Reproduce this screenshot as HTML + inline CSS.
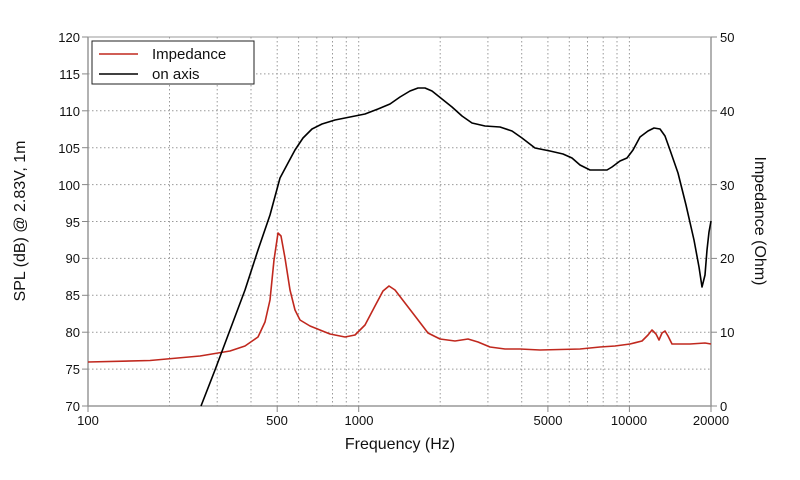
<!DOCTYPE html>
<html><head><meta charset="utf-8"><style>html,body{margin:0;padding:0;background:#fff}svg{display:block}</style></head><body>
<svg width="800" height="480" xmlns="http://www.w3.org/2000/svg" font-family="Liberation Sans, Arial, sans-serif">
<rect width="800" height="480" fill="#fff"/>
<g stroke="#999" stroke-width="1" stroke-dasharray="1.5,2.5">
<!-- horizontal grid -->
<line x1="88" x2="711" y1="73.9" y2="73.9"/><line x1="88" x2="711" y1="110.8" y2="110.8"/><line x1="88" x2="711" y1="147.7" y2="147.7"/><line x1="88" x2="711" y1="184.6" y2="184.6"/><line x1="88" x2="711" y1="221.5" y2="221.5"/><line x1="88" x2="711" y1="258.4" y2="258.4"/><line x1="88" x2="711" y1="295.3" y2="295.3"/><line x1="88" x2="711" y1="332.2" y2="332.2"/><line x1="88" x2="711" y1="369.1" y2="369.1"/>
<!-- vertical grid -->
<line y1="37" y2="406" x1="169.5" x2="169.5"/><line y1="37" y2="406" x1="217.2" x2="217.2"/><line y1="37" y2="406" x1="251" x2="251"/><line y1="37" y2="406" x1="277.2" x2="277.2"/><line y1="37" y2="406" x1="298.6" x2="298.6"/><line y1="37" y2="406" x1="316.8" x2="316.8"/><line y1="37" y2="406" x1="332.5" x2="332.5"/><line y1="37" y2="406" x1="346.3" x2="346.3"/><line y1="37" y2="406" x1="358.7" x2="358.7"/>
<line y1="37" y2="406" x1="440.2" x2="440.2"/><line y1="37" y2="406" x1="487.9" x2="487.9"/><line y1="37" y2="406" x1="521.7" x2="521.7"/><line y1="37" y2="406" x1="547.9" x2="547.9"/><line y1="37" y2="406" x1="569.3" x2="569.3"/><line y1="37" y2="406" x1="587.5" x2="587.5"/><line y1="37" y2="406" x1="603.2" x2="603.2"/><line y1="37" y2="406" x1="617" x2="617"/><line y1="37" y2="406" x1="629.4" x2="629.4"/>
</g>
<!-- axes -->
<g stroke="#999" stroke-width="1.5" fill="none">
<line x1="88" y1="37" x2="88" y2="406"/><line x1="711" y1="37" x2="711" y2="406"/><line x1="88" y1="406" x2="711" y2="406"/>
<line x1="88" y1="37" x2="711" y2="37" stroke-width="1"/>
</g>
<g stroke="#888" stroke-width="1">
<line x1="82" x2="88" y1="37" y2="37"/><line x1="82" x2="88" y1="73.9" y2="73.9"/><line x1="82" x2="88" y1="110.8" y2="110.8"/><line x1="82" x2="88" y1="147.7" y2="147.7"/><line x1="82" x2="88" y1="184.6" y2="184.6"/><line x1="82" x2="88" y1="221.5" y2="221.5"/><line x1="82" x2="88" y1="258.4" y2="258.4"/><line x1="82" x2="88" y1="295.3" y2="295.3"/><line x1="82" x2="88" y1="332.2" y2="332.2"/><line x1="82" x2="88" y1="369.1" y2="369.1"/><line x1="82" x2="88" y1="406" y2="406"/>
<line x1="711" x2="717" y1="37" y2="37"/><line x1="711" x2="717" y1="110.8" y2="110.8"/><line x1="711" x2="717" y1="184.6" y2="184.6"/><line x1="711" x2="717" y1="258.4" y2="258.4"/><line x1="711" x2="717" y1="332.2" y2="332.2"/><line x1="711" x2="717" y1="406" y2="406"/>
<line x1="88" x2="88" y1="406" y2="412"/><line x1="277.2" x2="277.2" y1="406" y2="412"/><line x1="358.7" x2="358.7" y1="406" y2="412"/><line x1="547.9" x2="547.9" y1="406" y2="412"/><line x1="629.4" x2="629.4" y1="406" y2="412"/><line x1="711" x2="711" y1="406" y2="412"/>
</g>
<g font-size="13" fill="#111" text-anchor="end">
<text x="80" y="42">120</text><text x="80" y="79">115</text><text x="80" y="116">110</text><text x="80" y="153">105</text><text x="80" y="190">100</text><text x="80" y="227">95</text><text x="80" y="263">90</text><text x="80" y="300">85</text><text x="80" y="337">80</text><text x="80" y="374">75</text><text x="80" y="411">70</text>
</g>
<g font-size="13" fill="#111" text-anchor="start">
<text x="720" y="42">50</text><text x="720" y="116">40</text><text x="720" y="190">30</text><text x="720" y="263">20</text><text x="720" y="337">10</text><text x="720" y="411">0</text>
</g>
<g font-size="13" fill="#111" text-anchor="middle">
<text x="88" y="425">100</text><text x="277" y="425">500</text><text x="359" y="425">1000</text><text x="548" y="425">5000</text><text x="629" y="425">10000</text><text x="711" y="425">20000</text>
</g>
<text x="400" y="449" font-size="16" text-anchor="middle" fill="#111">Frequency (Hz)</text>
<text transform="translate(25,221) rotate(-90)" font-size="16" text-anchor="middle" fill="#111">SPL (dB) @ 2.83V, 1m</text>
<text transform="translate(755,221) rotate(90)" font-size="16" text-anchor="middle" fill="#111">Impedance (Ohm)</text>
<!-- curves -->
<path fill="none" stroke="#c0281e" stroke-width="1.6" stroke-linejoin="round" d="M88,362 L150,360.5 L200,356 L230,351 L245,346 L258,337 L265,322 L270,300 L274,260 L278,233 L281,236 L285,258 L290,290 L295,310 L300,320 L310,326 L320,330 L330,334 L345,337 L355,335 L365,325 L375,306 L383,291 L389,286 L395,290 L405,303 L415,316 L428,333 L440,339 L455,341 L468,339 L478,342 L490,347 L505,349 L520,349 L540,350 L560,349.5 L580,349 L600,347 L615,346 L630,344 L642,341 L648,335 L652,330 L656,334 L659,340 L662,333 L665,331 L668,336 L672,344 L690,344 L705,343 L711,344"/>
<path fill="none" stroke="#000" stroke-width="1.6" stroke-linejoin="round" d="M201,406 L215,370 L230,330 L245,290 L258,250 L270,215 L280,178 L288,163 L295,150 L303,138 L312,129 L322,124 L335,120 L350,117 L365,114 L378,109 L390,104 L400,97 L410,91 L418,88 L425,88 L432,91 L442,99 L452,107 L462,116 L472,123 L485,126 L500,127 L512,131 L522,138 L535,148 L550,151 L563,154 L572,158 L580,165 L590,170 L600,170 L607,170 L612,167 L620,161 L627,158 L633,150 L640,137 L648,131 L654,128 L660,129 L665,136 L670,150 L678,173 L686,205 L694,240 L699,267 L702,287 L705,275 L707,250 L709,232 L711,221"/>
<!-- legend -->
<rect x="92" y="41" width="162" height="43" fill="#fff" stroke="#222" stroke-width="1"/>
<line x1="99" x2="138" y1="54" y2="54" stroke="#c0281e" stroke-width="1.6"/>
<line x1="99" x2="138" y1="74" y2="74" stroke="#000" stroke-width="1.6"/>
<text x="152" y="59" font-size="15" fill="#111">Impedance</text>
<text x="152" y="79" font-size="15" fill="#111">on axis</text>
</svg>
</body></html>
